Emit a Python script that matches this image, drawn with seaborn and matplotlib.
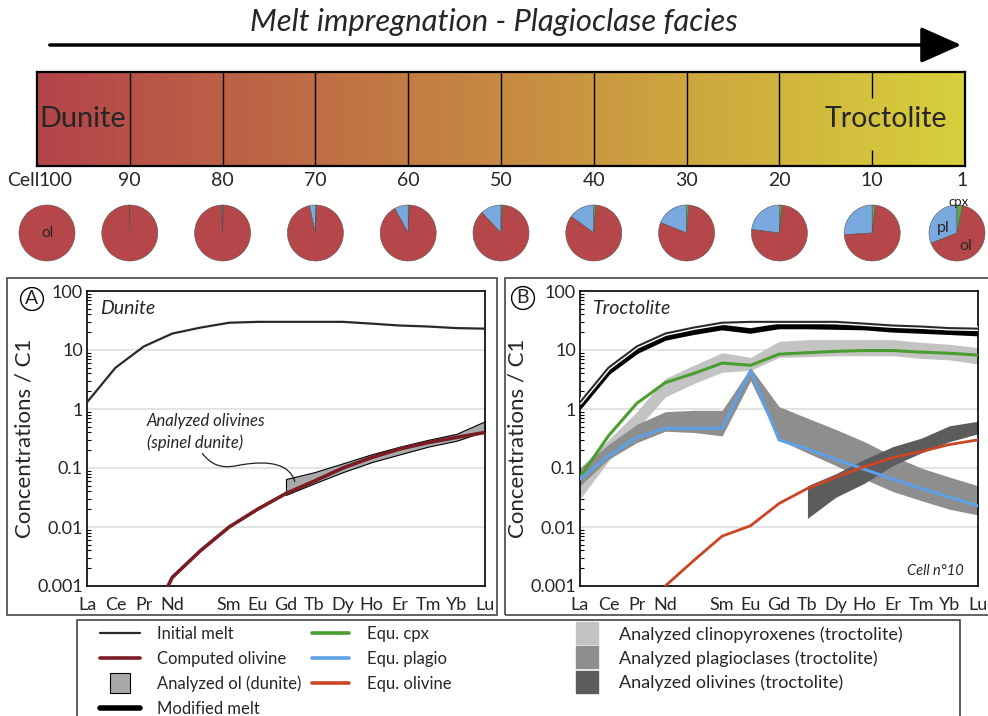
import numpy as np
import matplotlib
matplotlib.use("Agg")
import matplotlib.pyplot as plt
import matplotlib.patheffects as pe
import matplotlib.ticker as mticker
from matplotlib.colors import LinearSegmentedColormap
from matplotlib.patches import Rectangle, PathPatch, FancyArrowPatch
from matplotlib.path import Path
from matplotlib.lines import Line2D
import seaborn as sns

# ---------------- data ----------------
ree_ticklabels = ["La", "Ce", "Pr", "Nd", "", "Sm", "Eu", "Gd", "Tb", "Dy", "Ho", "Er", "Tm", "Yb", "Lu"]
ree_pos = np.arange(15)

cells = ["100", "90", "80", "70", "60", "50", "40", "30", "20", "10", "1"]
modal_pl = [0.0, 0.004, 0.008, 0.035, 0.08, 0.12, 0.15, 0.19, 0.23, 0.26, 0.31]
modal_cpx = [0.0, 0.0, 0.003, 0.006, 0.006, 0.008, 0.010, 0.012, 0.014, 0.016, 0.03]
modal_ol = [1.0, 0.996, 0.989, 0.959, 0.914, 0.872, 0.84, 0.798, 0.756, 0.724, 0.66]

# panel A (dunite)
initial_melt = [1.3, 5.0, 11.5, 19, 24, 29, 30, 30, 30, 30, 28, 26, 25, 23.5, 23]
computed_ol_x = ree_pos[2:]
computed_ol = [0.00015, 0.0014, 0.004, 0.01, 0.02, 0.037, 0.06, 0.1, 0.15, 0.21, 0.27, 0.33, 0.4]
dun_ol_x = ree_pos[7:]
dun_ol_lo = [0.035, 0.055, 0.085, 0.125, 0.17, 0.23, 0.29, 0.42]
dun_ol_hi = [0.065, 0.085, 0.12, 0.17, 0.23, 0.30, 0.38, 0.62]

# panel B (troctolite, cell 10)
modified_melt = [1.1, 4.2, 9.5, 16, 20, 24, 21, 25, 25, 24.5, 24, 22, 21, 20, 19]
equ_cpx = [0.07, 0.35, 1.25, 2.8, 4.0, 6.0, 5.5, 8.5, 9.0, 9.5, 9.8, 9.8, 9.2, 8.8, 8.2]
equ_plag = [0.065, 0.16, 0.33, 0.47, 0.47, 0.47, 4.5, 0.30, 0.21, 0.14, 0.095, 0.065, 0.045, 0.032, 0.023]
equ_ol_x = ree_pos[2:]
equ_ol = [0.0003, 0.001, 0.0027, 0.007, 0.0105, 0.025, 0.045, 0.07, 0.105, 0.15, 0.19, 0.25, 0.30]
an_cpx_lo = [0.03, 0.13, 0.45, 1.6, 2.7, 4.2, 4.5, 7.5, 7.7, 8.0, 8.0, 8.0, 7.2, 6.8, 5.8]
an_cpx_hi = [0.10, 0.30, 0.90, 3.3, 5.5, 9.0, 7.5, 14, 15, 15, 15, 15, 13.5, 12.5, 11]
an_plag_lo = [0.05, 0.14, 0.27, 0.42, 0.40, 0.35, 3.0, 0.30, 0.18, 0.11, 0.065, 0.04, 0.028, 0.02, 0.016]
an_plag_hi = [0.10, 0.25, 0.55, 0.90, 0.95, 0.95, 5.0, 1.10, 0.70, 0.45, 0.28, 0.16, 0.10, 0.07, 0.05]
an_ol_x = ree_pos[8:]
an_ol_lo = [0.014, 0.032, 0.055, 0.11, 0.18, 0.28, 0.38]
an_ol_hi = [0.05, 0.08, 0.14, 0.23, 0.32, 0.52, 0.62]

# ---------------- style ----------------
sns.set_theme(style="white")
plt.rcParams["font.family"] = ["Lato", "DejaVu Sans"]

C_INIT = "#2a2a2a"
C_COMP_OL = "#7a1c24"
C_DUN = "#a9a9a9"
C_MOD = "#000000"
C_CPX = "#4a9e2f"
C_PLAG = "#5ea0e6"
C_EQOL = "#cc4422"
C_ANCPX = "#c3c3c3"
C_ANPLAG = "#8e8e8e"
C_ANOL = "#5c5c5c"
C_PIE_OL = "#b5474a"
C_PIE_PL = "#7aa9e0"
C_PIE_CPX = "#5bae3f"

W, H = 988, 716
fig = plt.figure(figsize=(W / 100, H / 100), dpi=100)


def fx(px):
    return px / W


def fy(py):
    return 1 - py / H


# ---------------- title and arrow ----------------
fig.text(fx(494), fy(22), "Melt impregnation - Plagioclase facies", ha="center", va="center",
         fontsize=22.3, style="italic")
fig.add_artist(FancyArrowPatch((fx(47), fy(45)), (fx(964), fy(45)), transform=fig.transFigure,
                               arrowstyle="-|>,head_length=0.9,head_width=0.4", mutation_scale=28,
                               lw=2.5, color="black"))

# ---------------- gradient bar ----------------
bar = fig.add_axes([fx(37), fy(166), fx(965) - fx(37), fy(72) - fy(166)])
cmap = LinearSegmentedColormap.from_list("melt", ["#b4444a", "#c68a42", "#d8d03c"])
bar.imshow(np.linspace(0, 1, 256).reshape(1, -1), cmap=cmap, extent=[0, 10, 0, 1], aspect="auto")
bar.vlines(np.arange(1, 9), 0, 1, color="black", lw=1)
bar.vlines([9, 9], [0.72, 0], [1, 0.17], color="black", lw=1)
bar.set_xlim(0, 10)
bar.set_ylim(0, 1)
bar.set_xticks([])
bar.set_yticks([])
for s in bar.spines.values():
    s.set_color("black")
    s.set_linewidth(1.6)
bar.text(0.03, 0.5, "Dunite", ha="left", va="center", fontsize=20.8)
bar.text(9.15, 0.5, "Troctolite", ha="center", va="center", fontsize=20.5)

# cell labels and pies
cell_x = [37 + 92.8 * i for i in range(11)]
cell_x[-1] = 962
fig.text(fx(39), fy(181), "Cell", ha="right", va="center", fontsize=14)
for i, lab in enumerate(cells):
    ha = "left" if i == 0 else "center"
    x = 38 if i == 0 else cell_x[i]
    fig.text(fx(x), fy(181), lab, ha=ha, va="center", fontsize=14)

pie_x = [37 + 92.8 * i for i in range(11)]
pie_x[0] = 47
pie_x[-1] = 957
R = 35
for i in range(11):
    pax = fig.add_axes([fx(pie_x[i] - R), fy(233 + R), (2 * R) / W, (2 * R) / H])
    parts = [(v, c) for v, c in zip([modal_pl[i], modal_ol[i], modal_cpx[i]],
                                    [C_PIE_PL, C_PIE_OL, C_PIE_CPX]) if v > 0]
    pax.pie([p[0] for p in parts], colors=[p[1] for p in parts],
            startangle=90, counterclock=True,
            wedgeprops=dict(edgecolor="#555555", linewidth=0.4))
    pax.set_aspect("equal")
    if i == 0:
        pax.text(0, 0, "ol", ha="center", va="center", fontsize=11)
    if i == 10:
        pax.text(-0.5, 0.18, "pl", ha="center", va="center", fontsize=11.5)
        pax.text(0.3, -0.45, "ol", ha="center", va="center", fontsize=11.5)
        pax.text(0.05, 1.12, "cpx", ha="center", va="center", fontsize=9.5)

# ---------------- panel frames ----------------
for x0, x1 in [(7, 497), (505, 992)]:
    fig.add_artist(Rectangle((fx(x0), fy(615)), fx(x1) - fx(x0), fy(278) - fy(615),
                             transform=fig.transFigure, fill=False, ec="#555555", lw=1.3))

# ---------------- REE axes ----------------
def style_ree(ax):
    ax.set_yscale("log")
    ax.set_xlim(0, 14)
    ax.set_ylim(0.001, 100)
    ax.xaxis.set_major_locator(mticker.FixedLocator(ree_pos))
    ax.xaxis.set_major_formatter(mticker.FixedFormatter(ree_ticklabels))
    ax.yaxis.set_major_locator(mticker.FixedLocator([0.001, 0.01, 0.1, 1, 10, 100]))
    ax.yaxis.set_major_formatter(mticker.FixedFormatter(["0.001", "0.01", "0.1", "1", "10", "100"]))
    ax.yaxis.set_minor_locator(mticker.LogLocator(base=10, subs=np.arange(2, 10), numticks=20))
    ax.yaxis.set_minor_formatter(mticker.NullFormatter())
    ax.tick_params(axis="both", which="major", direction="in", length=6, width=1,
                   labelsize=13, color="black", pad=5)
    ax.tick_params(axis="y", which="minor", direction="in", length=3, width=0.8, color="black", left=True)
    ax.tick_params(axis="x", pad=8)
    ax.tick_params(axis="y", pad=3)
    ax.yaxis.grid(True, which="major", color="#dedede", lw=1.2)
    ax.xaxis.grid(False)
    ax.set_axisbelow(True)
    for s in ax.spines.values():
        s.set_color("black")
        s.set_linewidth(1.2)
    ax.set_ylabel("Concentrations / C1", fontsize=16, labelpad=2)
    ax.set_xlabel("")


axA = fig.add_axes([fx(87), fy(586), fx(485) - fx(87), fy(291) - fy(586)])
axB = fig.add_axes([fx(580), fy(586), fx(978) - fx(580), fy(291) - fy(586)])

# panel A
axA.fill_between(dun_ol_x, dun_ol_lo, dun_ol_hi, facecolor=C_DUN, edgecolor="black", lw=0.8, zorder=2)
sns.lineplot(x=ree_pos, y=initial_melt, ax=axA, color=C_INIT, lw=1.6, zorder=3)
sns.lineplot(x=computed_ol_x, y=computed_ol, ax=axA, color=C_COMP_OL, lw=2.6, zorder=4)
style_ree(axA)
axA.text(0.033, 0.94, "Dunite", transform=axA.transAxes, ha="left", va="center",
         fontsize=14, style="italic")
axA.text((147 - 87) / 398, 1 - (432 - 291) / 295, "Analyzed olivines\n(spinel dunite)",
         transform=axA.transAxes, ha="left", va="center", fontsize=12, style="italic",
         linespacing=1.45)


def ax_pt(px, py):
    return ((px - 87) / 398, 1 - (py - 291) / 295)


leader = Path([ax_pt(202, 453), ax_pt(212, 466), ax_pt(222, 468), ax_pt(235, 466),
               ax_pt(255, 462), ax_pt(288, 458), ax_pt(295, 482)],
              [Path.MOVETO, Path.CURVE4, Path.CURVE4, Path.CURVE4, Path.CURVE4, Path.CURVE4, Path.CURVE4])
axA.add_patch(PathPatch(leader, transform=axA.transAxes, fill=False, ec="#222222", lw=0.9, zorder=5))

# panel B
axB.fill_between(ree_pos, an_cpx_lo, an_cpx_hi, color=C_ANCPX, lw=0, zorder=2)
axB.fill_between(ree_pos, an_plag_lo, an_plag_hi, color=C_ANPLAG, lw=0, zorder=2)
axB.fill_between(an_ol_x, an_ol_lo, an_ol_hi, color=C_ANOL, lw=0, zorder=2)
sns.lineplot(x=ree_pos, y=modified_melt, ax=axB, color=C_MOD, lw=4, zorder=3)
sns.lineplot(x=ree_pos, y=initial_melt, ax=axB, color=C_INIT, lw=1.5, zorder=4,
             path_effects=[pe.Stroke(linewidth=3.5, foreground="white"), pe.Normal()])
sns.lineplot(x=ree_pos, y=equ_cpx, ax=axB, color=C_CPX, lw=2.2, zorder=4)
sns.lineplot(x=ree_pos, y=equ_plag, ax=axB, color=C_PLAG, lw=2.2, zorder=4)
sns.lineplot(x=equ_ol_x, y=equ_ol, ax=axB, color=C_EQOL, lw=2, zorder=4)
style_ree(axB)
axB.text(0.033, 0.94, "Troctolite", transform=axB.transAxes, ha="left", va="center",
         fontsize=14, style="italic")
axB.text(0.965, 0.05, "Cell n°10", transform=axB.transAxes, ha="right", va="center",
         fontsize=10.5, style="italic")

# circled panel letters
for x, y, lab in [(32, 299, "A"), (523, 298, "B")]:
    fig.text(fx(x), fy(y), lab, ha="center", va="center", fontsize=14,
             bbox=dict(boxstyle="circle,pad=0.15", fc="white", ec="black", lw=1))

# ---------------- legend ----------------
fig.add_artist(Rectangle((fx(77), fy(720)), fx(960) - fx(77), fy(620) - fy(720),
                         transform=fig.transFigure, fill=False, ec="#444444", lw=1.2))

col1 = [Line2D([], [], color=C_INIT, lw=1.6),
        Line2D([], [], color=C_COMP_OL, lw=2.6),
        Line2D([], [], ls="none", marker="s", ms=15, mfc=C_DUN, mec="black", mew=0.8),
        Line2D([], [], color=C_MOD, lw=4)]
col1_lab = ["Initial melt", "Computed olivine", "Analyzed ol (dunite)", "Modified melt"]
col2 = [Line2D([], [], color=C_CPX, lw=2.6),
        Line2D([], [], color=C_PLAG, lw=2.6),
        Line2D([], [], color=C_EQOL, lw=2.6)]
col2_lab = ["Equ. cpx", "Equ. plagio", "Equ. olivine"]
col3 = [Line2D([], [], ls="none", marker="s", ms=16, mfc=c, mec=c) for c in (C_ANCPX, C_ANPLAG, C_ANOL)]
col3_lab = ["Analyzed clinopyroxenes (troctolite)", "Analyzed plagioclases (troctolite)",
            "Analyzed olivines (troctolite)"]

for handles, labels, x0, hl, tp, fs, ls in [(col1, col1_lab, 100, 2.4, 1.0, 12, 0.53),
                                            (col2, col2_lab, 312, 2.2, 1.1, 12, 0.53),
                                            (col3, col3_lab, 574, 1.4, 1.1, 13, 0.42)]:
    fig.legend(handles, labels, loc="upper left", bbox_to_anchor=(fx(x0), fy(626)),
               frameon=False, fontsize=fs, handlelength=hl, handletextpad=tp,
               labelspacing=ls, borderpad=0, borderaxespad=0)

fig.savefig("out.png", dpi=100)
